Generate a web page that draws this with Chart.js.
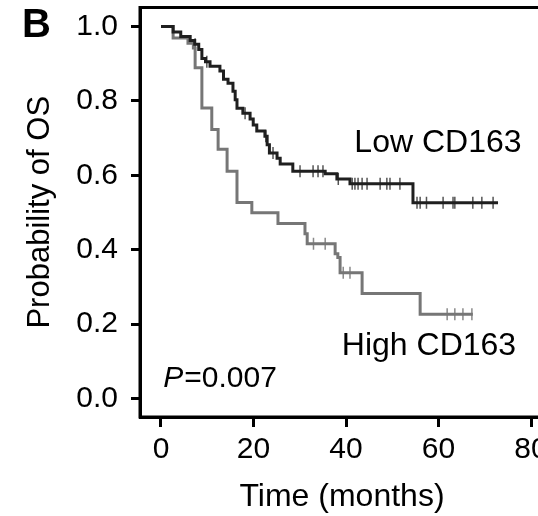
<!DOCTYPE html>
<html><head><meta charset="utf-8">
<script src="https://cdn.jsdelivr.net/npm/chart.js@4.4.1/dist/chart.umd.min.js"></script>
<style>html,body{margin:0;padding:0;overflow:hidden;background:#fff}#wrap{width:600px;height:516px}</style>
</head><body><div id="wrap"><canvas id="c" width="600" height="516"></canvas></div>
<script>
const xTicks = [0, 20, 40, 60, 80];
const yTicks = [0, 0.2, 0.4, 0.6, 0.8, 1.0];
const lowTimes = [0, 2.62, 4.27, 6.31, 7.29, 8.16, 8.84, 9.62, 10.60, 12.74, 13.51, 14.49, 15.56, 16.04, 16.43, 17.70, 19.26, 19.94, 20.71, 22.47, 22.95, 23.44, 25.09, 25.77, 28.50, 35.50, 38.03, 40.86, 54.48, 72.87];
const lowSurv  = [1.0, 0.985, 0.973, 0.962, 0.952, 0.938, 0.914, 0.905, 0.893, 0.880, 0.858, 0.847, 0.826, 0.803, 0.780, 0.767, 0.751, 0.735, 0.719, 0.705, 0.682, 0.660, 0.646, 0.630, 0.611, 0.604, 0.590, 0.577, 0.526, 0.526];
const lowCensorTimes = [7.38, 9.91, 18.18, 22.66, 24.22, 30.06, 32.88, 33.95, 35.02, 38.33, 41.34, 41.93, 42.61, 43.48, 44.55, 47.38, 48.83, 49.51, 51.66, 55.35, 56.03, 57.40, 60.99, 63.14, 63.53, 67.42, 69.37, 71.80];
const highTimes = [0, 2.62, 5.83, 7.00, 7.38, 8.84, 10.98, 12.35, 14.29, 16.43, 19.64, 25.29, 31.13, 31.61, 37.65, 38.23, 38.72, 43.48, 56.03, 67.42];
const highSurv  = [1.0, 0.969, 0.955, 0.942, 0.889, 0.781, 0.723, 0.670, 0.611, 0.527, 0.499, 0.470, 0.443, 0.416, 0.389, 0.379, 0.338, 0.282, 0.226, 0.226];
const highCensorTimes = [32.97, 35.50, 39.40, 40.86, 61.87, 63.53, 65.28, 67.22];
const seriesNames = ['Low CD163', 'High CD163'];
const pValueText = '=0.007';
const xTitle = 'Time (months)';

const FONT = '"Liberation Sans", Arial, Helvetica, sans-serif';
const LOW_COLOR = '#1f1f1f';
const HIGH_COLOR = '#767676';

function stepValue(times, surv, t) {
  let v = surv[0];
  for (let i = 0; i < times.length; i++) if (times[i] <= t) v = surv[i];
  return v;
}
const toPts = (times, surv) => times.map((t, i) => ({x: t, y: surv[i]}));
const censorPts = (ct, times, surv) => ct.map(t => ({x: t, y: stepValue(times, surv, t)}));

const framePlugin = {
  id: 'frame',
  afterDraw(chart) {
    const {ctx, chartArea: a} = chart;
    ctx.save();
    ctx.strokeStyle = '#000';
    ctx.lineWidth = 3;
    ctx.strokeRect(a.left, a.top, a.right - a.left, a.bottom - a.top);
    ctx.restore();
  }
};

const textPlugin = {
  id: 'texts',
  afterDraw(chart) {
    const {ctx} = chart;
    const xs = chart.scales.x, ys = chart.scales.y;
    ctx.save();
    ctx.fillStyle = '#000';
    ctx.textBaseline = 'middle';
    ctx.textAlign = 'left';
    ctx.font = '32px ' + FONT;
    ctx.fillText(seriesNames[0], xs.getPixelForValue(41.8), ys.getPixelForValue(0.687));
    ctx.fillText(seriesNames[1], xs.getPixelForValue(39.1), ys.getPixelForValue(0.14));
    const px = xs.getPixelForValue(0.48), py = ys.getPixelForValue(0.054);
    ctx.font = 'italic 30px ' + FONT;
    ctx.fillText('P', px, py);
    const w = ctx.measureText('P').width;
    ctx.font = '30px ' + FONT;
    ctx.fillText(pValueText, px + w + 1, py);
    ctx.textAlign = 'center';
    ctx.font = '32px ' + FONT;
    ctx.fillText(xTitle, (xs.getPixelForValue(0) + xs.getPixelForValue(80)) / 2 - 4, 497);
    ctx.textAlign = 'left';
    ctx.font = 'bold 40px ' + FONT;
    ctx.fillText('B', 22, 26);
    ctx.restore();
  }
};

new Chart(document.getElementById('c'), {
  type: 'line',
  data: {
    datasets: [
      {label: seriesNames[0], data: toPts(lowTimes, lowSurv), stepped: true, borderColor: LOW_COLOR, borderWidth: 3, pointRadius: 0, fill: false},
      {label: seriesNames[1], data: toPts(highTimes, highSurv), stepped: true, borderColor: HIGH_COLOR, borderWidth: 3, pointRadius: 0, fill: false},
      {label: 'low censor', data: censorPts(lowCensorTimes, lowTimes, lowSurv), showLine: false, pointStyle: 'line', rotation: 90, pointRadius: 6, borderColor: '#555', borderWidth: 1.5},
      {label: 'high censor', data: censorPts(highCensorTimes, highTimes, highSurv), showLine: false, pointStyle: 'line', rotation: 90, pointRadius: 6, borderColor: '#8a8a8a', borderWidth: 1.5}
    ]
  },
  options: {
    animation: false,
    responsive: false,
    layout: {padding: {left: 0, top: 6, right: 30, bottom: 0}},
    plugins: {legend: {display: false}, tooltip: {enabled: false}},
    scales: {
      x: {
        type: 'linear', min: -4.54, max: 88.43,
        afterBuildTicks: s => { s.ticks = xTicks.map(v => ({value: v})); },
        afterFit: s => { s.height = 99; s.paddingLeft = 0; s.paddingRight = 0; },
        grid: {display: true, drawOnChartArea: false, drawTicks: true, tickLength: 10, tickWidth: 3, tickColor: '#000'},
        border: {display: true, color: '#000', width: 3},
        ticks: {color: '#000', font: {family: FONT, size: 30}, padding: 5, maxRotation: 0, autoSkip: false},
        title: {display: false}
      },
      y: {
        type: 'linear', min: -0.050, max: 1.051,
        afterBuildTicks: s => { s.ticks = yTicks.map(v => ({value: v})); },
        afterFit: s => { s.width = 140; s.paddingTop = 0; s.paddingBottom = 0; },
        grid: {display: true, drawOnChartArea: false, drawTicks: true, tickLength: 9, tickWidth: 3, tickColor: '#000'},
        border: {display: true, color: '#000', width: 3},
        ticks: {color: '#000', font: {family: FONT, size: 30}, padding: 13, callback: v => Number(v).toFixed(1), autoSkip: false},
        title: {display: true, text: 'Probability of OS', color: '#000', font: {family: FONT, size: 31}, padding: {top: 22, bottom: 0}}
      }
    }
  },
  plugins: [framePlugin, textPlugin]
});
</script>
</body></html>
